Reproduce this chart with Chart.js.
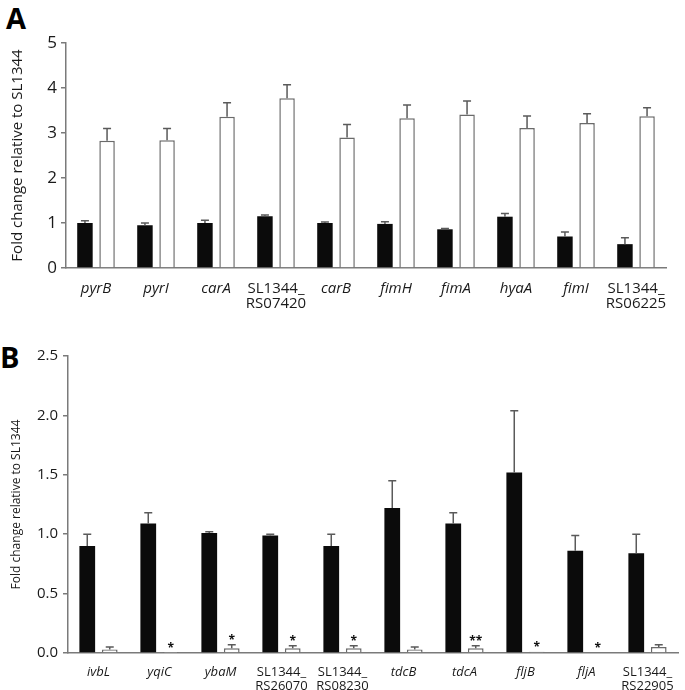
<!DOCTYPE html>
<html lang="en">
<head>
    <meta charset="UTF-8">
    <title>Fold change relative to SL1344</title>
    <script src="https://cdn.jsdelivr.net/npm/chart.js@4.4.1/dist/chart.umd.min.js"></script>
    <style>
        body {
            margin: 0;
            background: #ffffff;
            width: 685px;
            height: 690px;
            overflow: hidden;
            position: relative;
            font-family: "Open Sans", Arial, sans-serif;
        }
        .panel-letter {
            position: absolute;
            font-weight: bold;
            font-size: 29px;
            line-height: 1;
            color: #000;
        }
        #chartA { position: absolute; left: 0; top: 0; }
        #chartB { position: absolute; left: 0; top: 340px; }
    </style>
</head>
<body>
    <div class="panel-letter" style="left:6px; top:3px;">A</div>
    <div class="panel-letter" style="left:0px; top:342px;">B</div>

    <canvas id="chartA" width="685" height="330"></canvas>
    <canvas id="chartB" width="685" height="350"></canvas>

    <script>
        // ---- panel A data ----
        var labelsA = ['pyrB', 'pyrI', 'carA', ['SL1344_', 'RS07420'], 'carB', 'fimH', 'fimA', 'hyaA', 'fimI', ['SL1344_', 'RS06225']];
        var blackA = [1.00, 0.95, 1.00, 1.15, 1.00, 0.98, 0.86, 1.14, 0.70, 0.53];
        var blackErrA = [1.05, 1.00, 1.06, 1.18, 1.02, 1.03, 0.88, 1.21, 0.80, 0.67];
        var whiteA = [2.83, 2.84, 3.36, 3.77, 2.90, 3.33, 3.41, 3.11, 3.22, 3.37];
        var whiteErrA = [3.10, 3.10, 3.67, 4.07, 3.19, 3.62, 3.71, 3.38, 3.43, 3.56];

        // ---- panel B data ----
        var labelsB = ['ivbL', 'yqiC', 'ybaM', ['SL1344_', 'RS26070'], ['SL1344_', 'RS08230'], 'tdcB', 'tdcA', 'fljB', 'fljA', ['SL1344_', 'RS22905']];
        var blackB = [0.90, 1.09, 1.01, 0.99, 0.90, 1.22, 1.09, 1.52, 0.86, 0.84];
        var blackErrB = [1.00, 1.18, 1.02, 1.00, 1.00, 1.45, 1.18, 2.04, 0.99, 1.00];
        var whiteB = [0.03, 0.003, 0.04, 0.04, 0.04, 0.03, 0.04, 0.01, 0, 0.05];
        var whiteErrB = [0.05, null, 0.07, 0.06, 0.06, 0.05, 0.06, 0.01, null, 0.07];
        var starsB = ['', '*', '*', '*', '*', '', '**', '*', '*', ''];

        var FONT = '"Open Sans", Arial, sans-serif';
        var AXIS = '#7a7a7a';

        // error bars + significance marks
        var errorBarPlugin = {
            id: 'errorBars',
            afterDatasetsDraw: function (chart) {
                var ctx = chart.ctx;
                var y = chart.scales.y;
                ctx.save();
                ctx.strokeStyle = '#5a5a5a';
                ctx.lineWidth = 1.5;
                chart.data.datasets.forEach(function (ds, di) {
                    var meta = chart.getDatasetMeta(di);
                    meta.data.forEach(function (bar, i) {
                        var e = ds.errTop[i];
                        var top = ds.data[i];
                        if (e !== null && e !== undefined && e > ds.data[i]) {
                            var y0 = y.getPixelForValue(ds.data[i]);
                            var y1 = y.getPixelForValue(e);
                            ctx.beginPath();
                            ctx.moveTo(bar.x, y0);
                            ctx.lineTo(bar.x, y1);
                            ctx.moveTo(bar.x - 4, y1);
                            ctx.lineTo(bar.x + 4, y1);
                            ctx.stroke();
                            top = e;
                        }
                        if (ds.stars && ds.stars[i]) {
                            ctx.fillStyle = '#111';
                            ctx.font = 'bold 12px ' + FONT;
                            ctx.textAlign = 'center';
                            ctx.textBaseline = 'alphabetic';
                            ctx.fillText(ds.stars[i], bar.x, y.getPixelForValue(top) - 1);
                        }
                    });
                });
                ctx.restore();
            }
        };

        function makeChart(id, labels, black, blackErr, white, whiteErr, stars, opt) {
            return new Chart(document.getElementById(id), {
                type: 'bar',
                data: {
                    labels: labels,
                    datasets: [{
                        data: black,
                        errTop: blackErr,
                        backgroundColor: '#0b0b0b',
                        borderColor: '#0b0b0b',
                        borderWidth: 0,
                        categoryPercentage: 0.737,
                        barPercentage: 0.70
                    }, {
                        data: white,
                        errTop: whiteErr,
                        stars: stars,
                        backgroundColor: '#ffffff',
                        borderColor: '#6a6a6a',
                        borderWidth: 1.5,
                        categoryPercentage: 0.737,
                        barPercentage: 0.70
                    }]
                },
                options: {
                    responsive: false,
                    animation: false,
                    devicePixelRatio: 1,
                    layout: { padding: { left: 0, right: opt.padRight, top: opt.padTop, bottom: 0 } },
                    plugins: { legend: { display: false }, tooltip: { enabled: false } },
                    scales: {
                        x: {
                            grid: { display: false },
                            border: { display: true, color: AXIS, width: 1.5 },
                            ticks: {
                                color: '#1a1a1a',
                                padding: opt.xPad,
                                maxRotation: 0,
                                autoSkip: false,
                                font: function (c) {
                                    return {
                                        family: FONT,
                                        size: opt.xFont,
                                        lineHeight: opt.xLine,
                                        style: Array.isArray(labels[c.index]) ? 'normal' : 'italic'
                                    };
                                }
                            },
                            afterFit: function (s) { s.height = opt.xHeight; }
                        },
                        y: {
                            min: 0,
                            max: opt.yMax,
                            grid: { display: true, drawOnChartArea: false, drawTicks: true, tickLength: 5, color: AXIS, lineWidth: 1.5 },
                            border: { display: true, color: AXIS, width: 1.5 },
                            ticks: {
                                stepSize: opt.yStep,
                                color: '#1a1a1a',
                                padding: opt.yPad,
                                font: { family: FONT, size: opt.yFont },
                                callback: function (v) { return opt.yDec ? v.toFixed(1) : v; }
                            },
                            title: {
                                display: true,
                                text: 'Fold change relative to SL1344',
                                color: '#1a1a1a',
                                font: { family: FONT, size: opt.titleFont },
                                padding: { top: opt.titlePad, bottom: 0 }
                            },
                            afterFit: function (s) { s.width = opt.yWidth; }
                        }
                    }
                },
                plugins: [errorBarPlugin]
            });
        }

        makeChart('chartA', labelsA, blackA, blackErrA, whiteA, whiteErrA, null, {
            padRight: 19, padTop: 43, xHeight: 62, xPad: 5, xFont: 15, xLine: 1.0,
            yMax: 5, yStep: 1, yDec: false, yFont: 17, yPad: 4, yWidth: 66, titleFont: 15, titlePad: 9
        });

        makeChart('chartB', labelsB, blackB, blackErrB, whiteB, whiteErrB, starsB, {
            padRight: 7, padTop: 16, xHeight: 37, xPad: 4, xFont: 13, xLine: 1.1,
            yMax: 2.5, yStep: 0.5, yDec: true, yFont: 15, yPad: 5, yWidth: 68, titleFont: 12, titlePad: 9
        });
    </script>
</body>
</html>
